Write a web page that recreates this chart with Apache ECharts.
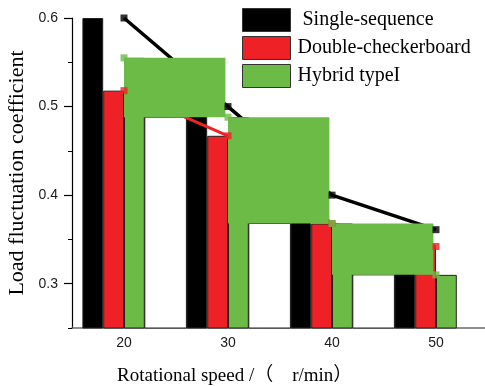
<!DOCTYPE html>
<html>
<head>
<meta charset="utf-8">
<script src="https://cdn.jsdelivr.net/npm/echarts@6/dist/echarts.min.js"></script>
<style>
  html, body { margin: 0; padding: 0; background: #fff; }
  #chart { width: 485px; height: 386px; }
</style>
</head>
<body>
<div id="chart"></div>
<script>
// Rotational speed categories (r/min)
const speeds = ['20', '30', '40', '50'];

// Load fluctuation coefficient per winding layout
const singleSequence = [0.600, 0.500, 0.400, 0.361];
const doubleCheckerboard = [0.518, 0.467, 0.368, 0.342];
const hybridTypeI = [0.555, 0.488, 0.368, 0.310];

// Y axis range and minor tick values (major ticks fall on tenths)
const Y_MIN = 0.25;
const Y_MAX = 0.6;
const minorTicks = [0.25, 0.35, 0.45, 0.55];

const BLACK = '#000000';
const RED = '#ee2226';
const GREEN = '#6cbb47';
const EDGE = '#222222';
const BAR_FRAC = 0.2; // bar width as a fraction of the category band

const serif = "'Liberation Serif', 'Times New Roman', 'Noto Sans CJK SC', serif";
const sans = "'Liberation Sans', Arial, sans-serif";

// White framed box in the gap before each group, topped at the hybrid value
function renderBackdrop(params, api) {
  const i = api.value(0);
  if (i === 0) return null;
  const top = api.coord([i, api.value(1)]);
  const base = api.coord([i, Y_MIN]);
  const band = api.size([1, 0])[0];
  const left = top[0] - band * (1 - BAR_FRAC);
  const right = top[0] - band * 2 * BAR_FRAC;
  return {
    type: 'rect',
    shape: { x: left, y: top[1], width: right - left, height: base[1] - top[1] },
    style: { fill: '#ffffff', stroke: EDGE, lineWidth: 1 }
  };
}

// Filled block between two consecutive hybrid points
function renderStep(params, api) {
  const i = api.value(0);
  const p1 = api.coord([i, api.value(1)]);
  const p2 = api.coord([i + 1, api.value(2)]);
  const band = api.size([1, 0])[0];
  return {
    type: 'rect',
    shape: { x: p1[0], y: p1[1], width: p2[0] - p1[0] - band * 0.025, height: p2[1] - p1[1] },
    style: { fill: GREEN }
  };
}

const backdropData = hybridTypeI.map((v, i) => [i, v]);
const stepData = hybridTypeI.slice(0, -1).map((v, i) => [i, v, hybridTypeI[i + 1]]);

function barSeries(name, data, color) {
  return {
    name: name,
    type: 'bar',
    data: data,
    barWidth: (BAR_FRAC * 100) + '%',
    barGap: '0%',
    z: 2,
    itemStyle: { color: color, borderColor: EDGE, borderWidth: 1 }
  };
}

function trendLine(data, color, width) {
  return {
    type: 'line',
    data: data,
    symbol: 'none',
    z: 3,
    silent: true,
    lineStyle: { color: color, width: width }
  };
}

function markers(data, color) {
  return {
    type: 'scatter',
    data: data,
    symbol: 'rect',
    symbolSize: 7,
    z: 6,
    silent: true,
    itemStyle: { color: color }
  };
}

const chart = echarts.init(document.getElementById('chart'), null, { renderer: 'canvas' });

chart.setOption({
  animation: false,
  backgroundColor: '#ffffff',
  title: {
    text: 'Rotational speed /（\u3000r/min）',
    left: 117,
    top: 367,
    padding: 0,
    textStyle: { fontFamily: serif, fontSize: 19, fontWeight: 'normal', color: '#000' }
  },
  legend: {
    data: ['Single-sequence', 'Double-checkerboard', 'Hybrid typeI'],
    orient: 'vertical',
    left: 242,
    top: 8,
    padding: 0,
    icon: 'rect',
    itemWidth: 48,
    itemHeight: 23,
    itemGap: 4,
    itemStyle: { borderColor: '#333', borderWidth: 1 },
    formatter: name => (name === 'Single-sequence' ? ' ' + name : name),
    textStyle: { fontFamily: serif, fontSize: 20, color: '#000', padding: [0, 0, 0, 2] }
  },
  grid: {
    left: 72, top: 18, width: 416, height: 310,
    containLabel: false,
    outerBoundsMode: 'none'
  },
  xAxis: {
    type: 'category',
    data: speeds,
    axisLine: { lineStyle: { color: '#6b6b6b', width: 1.5 } },
    axisTick: { show: true, inside: true, length: 2, lineStyle: { color: '#333' } },
    axisLabel: { fontFamily: sans, fontSize: 14, color: '#1a1a1a', margin: 8 },
    splitLine: { show: false }
  },
  yAxis: [
    {
      type: 'value',
      min: Y_MIN,
      max: Y_MAX,
      splitNumber: 4,
      name: 'Load fluctuation coefficient',
      nameLocation: 'middle',
      nameGap: 44,
      nameMoveOverlap: false,
      nameTextStyle: { fontFamily: serif, fontSize: 22, color: '#000' },
      axisLine: { show: true, lineStyle: { color: '#000', width: 1.2 } },
      axisTick: { show: true, length: 8, lineStyle: { color: '#000', width: 1.2 } },
      axisLabel: {
        showMinLabel: false,
        formatter: v => v.toFixed(1),
        fontFamily: sans, fontSize: 14, color: '#1a1a1a', margin: 14
      },
      splitLine: { show: false }
    },
    {
      type: 'value',
      min: Y_MIN,
      max: Y_MAX,
      position: 'left',
      axisLine: { show: false },
      axisTick: { show: true, customValues: minorTicks, length: 4, lineStyle: { color: '#000' } },
      axisLabel: { show: false },
      splitLine: { show: false }
    }
  ],
  series: [
    {
      type: 'custom',
      data: backdropData,
      renderItem: renderBackdrop,
      z: 1,
      silent: true,
      encode: { x: 0, y: 1 }
    },
    barSeries('Single-sequence', singleSequence, BLACK),
    barSeries('Double-checkerboard', doubleCheckerboard, RED),
    barSeries('Hybrid typeI', hybridTypeI, GREEN),
    { type: 'bar', data: speeds.map(() => null), barWidth: (BAR_FRAC * 100) + '%', barGap: '0%' },
    trendLine(singleSequence, BLACK, 3.5),
    trendLine(doubleCheckerboard, RED, 3),
    {
      type: 'custom',
      data: stepData,
      renderItem: renderStep,
      z: 4,
      silent: true,
      encode: { x: 0, y: [1, 2] }
    },
    markers(singleSequence, BLACK),
    markers(doubleCheckerboard, RED),
    markers(hybridTypeI, GREEN)
  ]
});
</script>
</body>
</html>
